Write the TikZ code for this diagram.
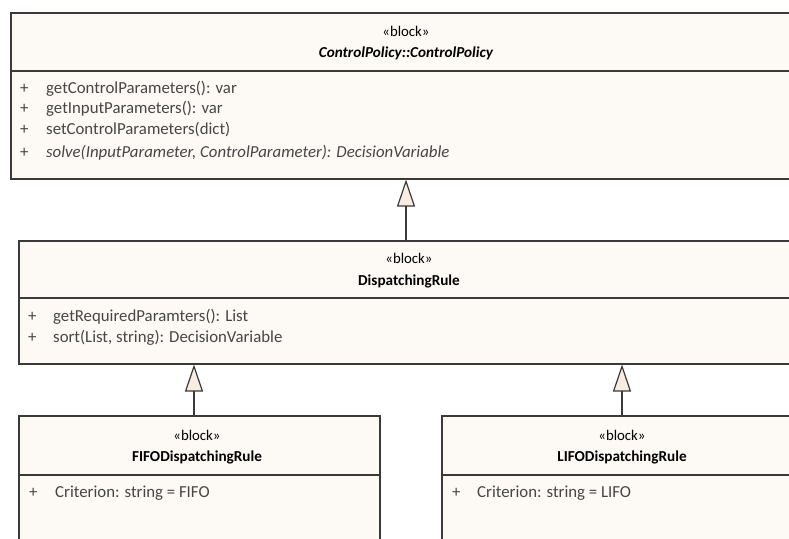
\documentclass[tikz,border=0pt]{standalone}
\usepackage{fontspec}
\setmainfont{Carlito}
\usetikzlibrary{arrows.meta}
\definecolor{boxfill}{HTML}{FDF9F5}
\definecolor{trifill}{HTML}{F8EDE0}
\definecolor{edge}{HTML}{3A3A3A}
\definecolor{txt}{HTML}{464646}
\tikzset{
  x=1pt,y=-1pt,
  umlbox/.style={draw=edge,line width=1.5pt,fill=boxfill,rectangle,inner sep=0pt,anchor=north west},
  divider/.style={draw=edge,line width=1.5pt},
  stereo/.style={font=\fontsize{14.8}{16}\selectfont,text=black,inner sep=0pt},
  cname/.style={font=\fontsize{15.2}{16}\selectfont\bfseries,text=black,inner sep=0pt},
  member/.style={font=\fontsize{16.8}{18}\selectfont,text=txt,inner sep=0pt,anchor=west},
  gen/.style={draw=edge,line width=1.5pt,-{Triangle[length=27pt,width=18pt,fill=trifill,line width=1.2pt]}},
}
\begin{document}
\begin{tikzpicture}
\fill[white] (0,0) rectangle (789,538);
\clip (0,0) rectangle (789,538);
% ControlPolicy
\node[umlbox,minimum width=800pt,minimum height=166pt] (cp) at (10,12) {};
\draw[divider] (10,71) -- (810,71);
\node[stereo] (cps) at (406,31) {«block»};
\node[cname] (cpn) at (406,53) {\itshape ControlPolicy::ControlPolicy};
\node[member] (cpp1) at (20,89) {+};
\node[member] (cpm1) at (46,89) {getControlParameters(): var};
\node[member] (cpp2) at (20,109) {+};
\node[member] (cpm2) at (46,109) {getInputParameters(): var};
\node[member] (cpp3) at (20,130) {+};
\node[member] (cpm3) at (46,130) {setControlParameters(dict)};
\node[member] (cpp4) at (20,153) {+};
\node[member] (cpm4) at (46,153) {\itshape solve(InputParameter, ControlParameter): DecisionVariable};
% DispatchingRule
\node[umlbox,minimum width=800pt,minimum height=123pt] (dr) at (18,240) {};
\draw[divider] (18,298) -- (818,298);
\node[stereo] (drs) at (409,258) {«block»};
\node[cname] (drn) at (409,281) {DispatchingRule};
\node[member] (drp1) at (28,317) {+};
\node[member] (drm1) at (53,317) {getRequiredParamters(): List};
\node[member] (drp2) at (28,338) {+};
\node[member] (drm2) at (53,338) {sort(List, string): DecisionVariable};
% FIFO
\node[umlbox,minimum width=361pt,minimum height=140pt] (fifo) at (18,415) {};
\draw[divider] (18,475) -- (379,475);
\node[stereo] (fs) at (197,435) {«block»};
\node[cname] (fn) at (197,457) {FIFODispatchingRule};
\node[member] (fp1) at (29,493) {+};
\node[member] (fm1) at (55,493) {Criterion: string = FIFO};
% LIFO
\node[umlbox,minimum width=400pt,minimum height=140pt] (lifo) at (441,415) {};
\draw[divider] (441,475) -- (841,475);
\node[stereo] (ls) at (622,435) {«block»};
\node[cname] (ln) at (622,457) {LIFODispatchingRule};
\node[member] (lp1) at (452,493) {+};
\node[member] (lm1) at (477,493) {Criterion: string = LIFO};
% generalizations
\coordinate (a1) at (406,0);
\coordinate (a2) at (194,0);
\coordinate (a3) at (622,0);
\draw[gen] (dr.north -| a1) -- (cp.south -| a1);
\draw[gen] (fifo.north -| a2) -- (dr.south -| a2);
\draw[gen] (lifo.north -| a3) -- (dr.south -| a3);
\end{tikzpicture}
\end{document}
